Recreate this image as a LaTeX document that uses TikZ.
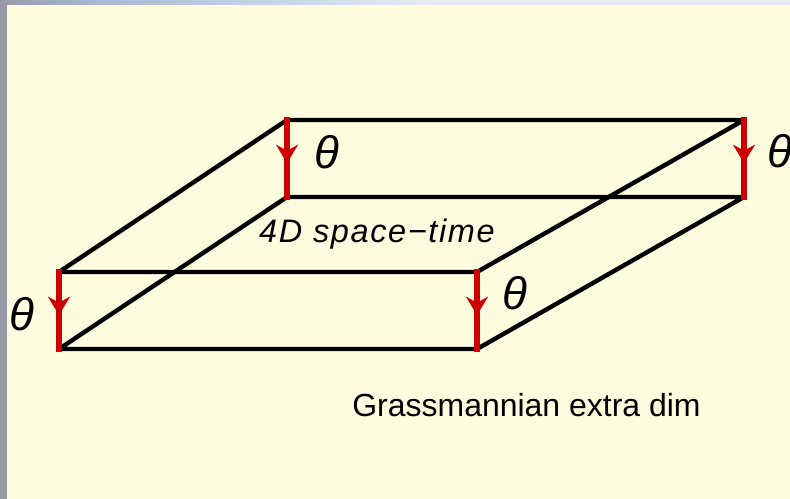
\documentclass[tikz,border=0pt]{standalone}
\usepackage{fontspec}
\setmainfont{Liberation Sans}
\newfontfamily\widefont[LetterSpace=5]{Liberation Sans}
\usetikzlibrary{arrows.meta,decorations.markings}
\definecolor{paper}{HTML}{FEFCDE}
\definecolor{rimgrey}{HTML}{989AA8}
\definecolor{rimblue}{HTML}{A9B9D6}
\definecolor{rimpale}{HTML}{CAD9E8}
\definecolor{rimlight}{HTML}{E8EBF2}
\definecolor{edgered}{HTML}{CC0000}
\begin{document}
\begin{tikzpicture}[x=0.02cm, y=-0.02cm,
    edge/.style={draw=black, line width=2.5pt, line join=round},
    thetaedge/.style={draw=edgered, line width=3.7pt, postaction={decorate},
      decoration={markings, mark=at position 0.56 with {\arrow[edgered, line width=0.1pt]{Stealth[length=10.5pt, width=12.5pt, inset=3.5pt]}}}},
    thetalabel/.style={font=\fontsize{26}{26}\itshape, inner sep=0pt}]
  % Frame of the slide behind the drawing
  \useasboundingbox (0,0) rectangle (790,499);
  \fill[rimgrey] (0,0) rectangle (7,499);
  \shade[left color=rimgrey, right color=rimblue] (0,0) rectangle (100,5);
  \shade[left color=rimblue, right color=rimpale] (100,0) rectangle (300,5);
  \shade[left color=rimpale, right color=rimlight] (300,0) rectangle (430,5);
  \fill[rimlight] (430,0) rectangle (790,5);
  \fill[paper] (7,5) rectangle (790,499);
  % Corners of the slab, upper face and lower face
  \foreach \name/\x/\y in {ub/287/120,ur/744/120,uf/477/272,ul/59/272,
      lb/287/197,lr/744/197,lf/477/349,ll/59/349}{
    \coordinate (\name) at (\x,\y);
  }
  % Both faces as closed outlines
  \draw[edge] (ub) -- (ur) -- (uf) -- (ul) -- cycle;
  \draw[edge] (lb) -- (lr) -- (lf) -- (ll) -- cycle;
  % Red vertical edges with an arrow half way
  \foreach \i/\j in {ub/lb,ur/lr,uf/lf,ul/ll}{
    \draw[thetaedge, shorten <=-1.5pt, shorten >=-1.5pt] (\i) -- (\j);
  }
  % Labels
  \node[thetalabel] (thetaback) at (327,152) {θ};
  \node[thetalabel] (thetaright) at (780,151) {θ};
  \node[thetalabel] (thetafront) at (515,293) {θ};
  \node[thetalabel] (thetaleft) at (22,314) {θ};
  \node[font=\fontsize{18.5}{18.5}\widefont\itshape, inner sep=0pt, anchor=base] (bulk) at (377,243) {4D space−time};
  \node[font=\fontsize{18.2}{18.2}\selectfont, inner sep=0pt] (extradim) at (526.5,405) {Grassmannian extra dim};
\end{tikzpicture}
\end{document}
